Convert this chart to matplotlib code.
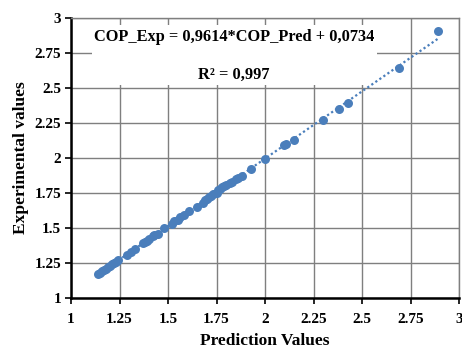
import matplotlib
matplotlib.use("Agg")
import matplotlib.pyplot as plt
import numpy as np
from matplotlib.patches import Rectangle

plt.rcParams['font.family'] = ['Liberation Serif', 'DejaVu Serif']
plt.rcParams['font.weight'] = 'bold'

# predicted vs experimental COP
pred = [1.14, 1.15, 1.16, 1.17, 1.18, 1.19, 1.20, 1.21, 1.22, 1.23, 1.24,
        1.29, 1.31, 1.33,
        1.37, 1.38, 1.39, 1.40, 1.42, 1.43, 1.45,
        1.48,
        1.52, 1.53, 1.55, 1.56, 1.58,
        1.61, 1.65,
        1.68, 1.69, 1.70, 1.71, 1.72, 1.73, 1.75,
        1.76, 1.77, 1.78, 1.79, 1.80, 1.82, 1.83, 1.85, 1.86, 1.88,
        1.93, 2.00, 2.10, 2.11, 2.15,
        2.30, 2.38, 2.43, 2.69, 2.89]
exp = [1.17, 1.18, 1.19, 1.20, 1.21, 1.22, 1.23, 1.24, 1.25, 1.26, 1.27,
       1.31, 1.33, 1.35,
       1.39, 1.40, 1.41, 1.42, 1.44, 1.45, 1.46,
       1.50,
       1.53, 1.55, 1.56, 1.58, 1.59,
       1.62, 1.65,
       1.68, 1.70, 1.71, 1.72, 1.73, 1.74, 1.75,
       1.77, 1.78, 1.79, 1.80, 1.81, 1.82, 1.83, 1.85, 1.86, 1.87,
       1.92, 1.99, 2.09, 2.10, 2.13,
       2.27, 2.35, 2.39, 2.64, 2.91]

ticks = [1, 1.25, 1.5, 1.75, 2, 2.25, 2.5, 2.75, 3]
tick_labels = ['1', '1.25', '1.5', '1.75', '2', '2.25', '2.5', '2.75', '3']

blue = '#4a7ebb'

fig = plt.figure(figsize=(4.62, 3.5), dpi=100)
ax = fig.add_axes([0.1537, 0.1486, 0.84, 0.80])
ax.set_axisbelow(True)

ax.scatter(pred, exp, s=42, color=blue, zorder=3, linewidths=0)

# linear trendline
k, b = np.polyfit(pred, exp, 1)
xl = np.array([min(pred), max(pred)])
ax.plot(xl, k * xl + b, linestyle=(0, (1, 1.2)), color=blue, lw=1.6, zorder=2)

ax.set_xlim(1, 3)
ax.set_ylim(1, 3)
ax.set_xticks(ticks)
ax.set_xticklabels(tick_labels)
ax.set_yticks(ticks)
ax.set_yticklabels(tick_labels)
ax.tick_params(labelsize=11, length=4, width=1.2, direction='out', pad=3)
ax.tick_params(axis='x', pad=7)
ax.grid(color='#7f7f7f', lw=1)

for s in ['top', 'right']:
    ax.spines[s].set_color('#7f7f7f')
    ax.spines[s].set_linewidth(1)
for s in ['left', 'bottom']:
    ax.spines[s].set_linewidth(1.8)

ax.set_xlabel('Prediction Values', fontsize=12.5, fontweight='bold', labelpad=5)
ax.set_ylabel('Experimental values', fontsize=12.5, fontweight='bold', labelpad=4)

# equation label with white background
ax.add_patch(Rectangle((1.108, 2.52), 1.47, 0.43, facecolor='white',
                       edgecolor='none', zorder=1))
ax.text(1.84, 2.864, 'COP_Exp = 0,9614*COP_Pred + 0,0734', ha='center', va='center',
        fontsize=11.8, fontweight='bold', zorder=4)
ax.text(1.84, 2.593, 'R² = 0,997', ha='center', va='center',
        fontsize=11.8, fontweight='bold', zorder=4)

fig.savefig('out.png', dpi=100)
